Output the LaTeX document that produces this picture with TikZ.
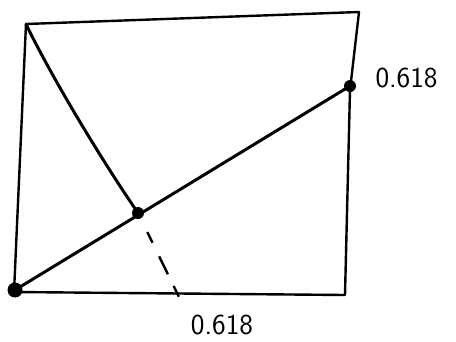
\documentclass[tikz,border=0pt]{standalone}
\usetikzlibrary{calc}

\begin{document}
\begin{tikzpicture}[
    x=1pt, y=-1pt,
    dot/.style={circle, fill=black, inner sep=0pt, minimum size=#1},
    frame/.style={line width=2.4pt, line cap=round, line join=round},
    stroke/.style={line width=3pt, line cap=round},
    every node/.style={font=\sffamily\fontsize{29}{31}\selectfont},
  ]

  % Background / bounding box
  \fill[white] (0,0) rectangle (456,341);
  \useasboundingbox (0,0) rectangle (456,341);

  % === Corners of the sheet ===
  \coordinate (tl) at (26,24);
  \coordinate (tr) at (359,12);
  \coordinate (br) at (345,295);
  \coordinate (bl) at (14,292);

  % Foot of the dashed drop on the bottom edge
  \coordinate (foot) at (179,297);

  % === Marked points ===
  \node[dot=15pt] (origin) at (15,290) {};
  \node[dot=12pt] (gold)   at (350,86) {};
  \node[dot=12pt] (fold)   at (138,213) {};

  % --- Rectangle ---
  \draw[frame] (tl) -- (tr) -- (350,90) -- (br) -- (bl) -- cycle;

  % --- Diagonal from origin to the 0.618 mark ---
  \draw[stroke] (origin.center) -- (gold.center);

  % --- Fold from top-left corner down to the diagonal ---
  \draw[stroke] (tl) .. controls (48,70) and (95,150) .. (fold.center);

  % --- Projection onto the bottom edge (three dashes) ---
  \draw[line width=2.4pt,
        dash pattern=on 12pt off 15pt on 20pt off 13pt on 12pt off 15pt,
        dash phase=72pt]
    (fold) -- (foot);

  % === Labels ===
  \node[anchor=west] (lblright)  at (372,78)  {0.618};
  \node              (lblbottom) at (222,325) {0.618};

\end{tikzpicture}
\end{document}
